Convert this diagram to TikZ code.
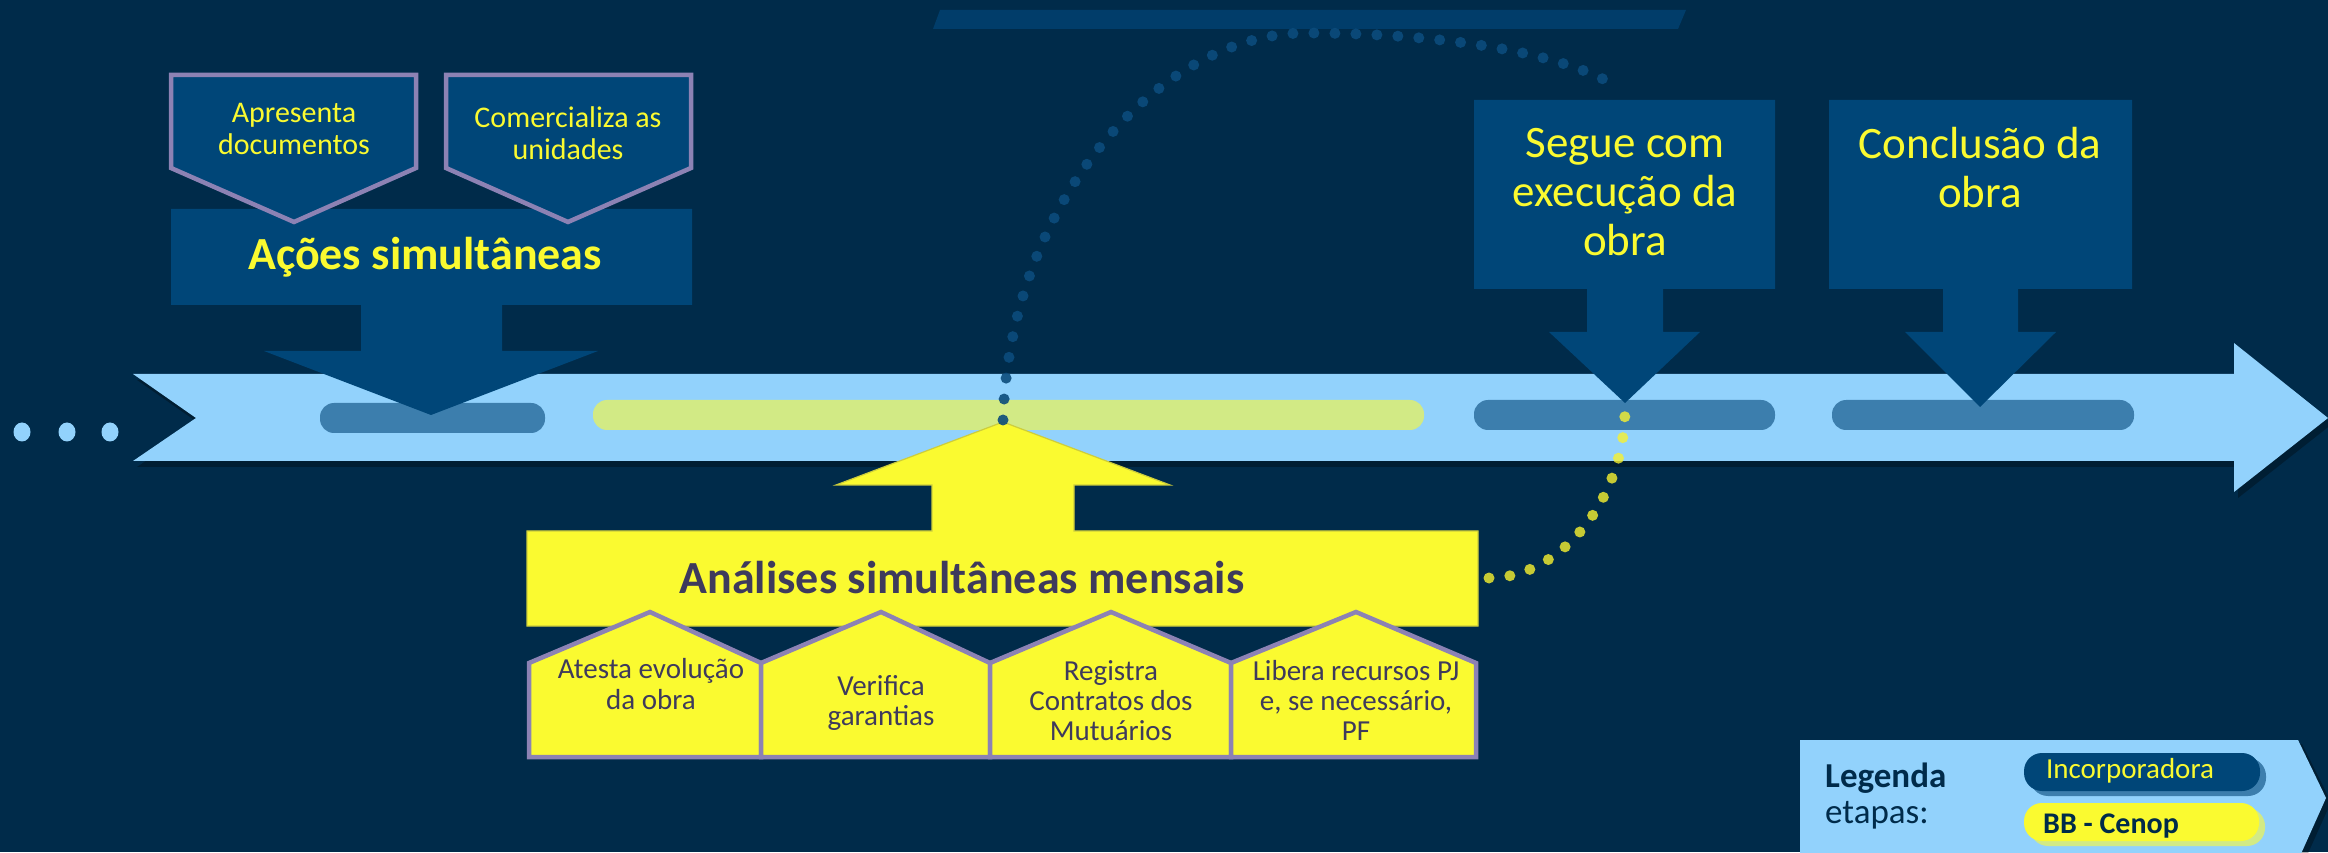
\documentclass[tikz,border=0pt]{standalone}
\usepackage{fontspec}
\setmainfont{Carlito}
\definecolor{bgc}{RGB}{0,43,74}
\definecolor{boxc}{RGB}{0,70,120}
\definecolor{stripe}{RGB}{1,61,106}
\definecolor{lblue}{RGB}{146,210,252}
\definecolor{steel}{RGB}{60,126,173}
\definecolor{ygreen}{RGB}{210,234,133}
\definecolor{yel}{RGB}{250,250,48}
\definecolor{purp}{RGB}{140,130,180}
\definecolor{dk}{RGB}{62,58,92}
\definecolor{dotdark}{RGB}{12,76,124}
\definecolor{dotyel}{RGB}{248,242,47}
\tikzset{
  ytext/.style={text=yel, inner sep=0pt, align=center},
  dtext/.style={text=dk, inner sep=0pt, align=center},
  pentbox/.style={fill=boxc, draw=purp, line width=4.5pt, line join=miter},
  housebox/.style={fill=yel, draw=purp, line width=4.5pt, line join=miter},
  pill/.style={rounded corners=14pt},
  legpill/.style={rounded corners=18pt},
  dotline/.style={line cap=round, line width=11pt, dash pattern=on 0pt off 21pt},
}
\begin{document}
\begin{tikzpicture}[x=1pt,y=1pt]
\useasboundingbox (0,0) rectangle (2328,852);
\fill[bgc] (0,0) rectangle (2328,852);
\begin{scope}
\clip (0,0) rectangle (2328,852);
% top stripe
\fill[stripe] (940,842) -- (1686,842) -- (1678,823) -- (933,823) -- cycle;
% leading dots
\foreach \xx in {22,67,110} \fill[lblue] (\xx,420) ellipse (8.5pt and 9.5pt);
% main band shadow and band
\fill[black, opacity=0.3] (137,385) -- (2238,385) -- (2238,354) -- (2332,428) -- (2238,503) -- (2238,472) -- (137,472) -- (200,428) -- cycle;
\fill[lblue] (133,478) -- (2234,478) -- (2234,509) -- (2328,434) -- (2234,360) -- (2234,391) -- (133,391) -- (196,434) -- cycle;
% bars
\fill[steel, pill] (320,419) rectangle (545,449);
\fill[ygreen, pill] (593,422) rectangle (1424,452);
\fill[steel, pill] (1474,422) rectangle (1775,452);
\fill[steel, pill] (1832,422) rectangle (2134,452);
% Acoes box with down arrow
\fill[boxc] (171,643) -- (692,643) -- (692,547) -- (502,547) -- (502,501) -- (598,501) -- (431,437) -- (264,501) -- (361,501) -- (361,547) -- (171,547) -- cycle;
\draw[pentbox] (171,777) -- (416,777) -- (416,684) -- (294,630) -- (171,684) -- cycle;
\draw[pentbox] (446,777) -- (691,777) -- (691,684) -- (568,630) -- (446,684) -- cycle;
\node[ytext, anchor=north, font=\fontsize{30}{32}\selectfont] (apr) at (294,752.4) {\strut Apresenta\\documentos};
\node[ytext, anchor=north, font=\fontsize{30}{32}\selectfont] (com) at (568,747.4) {\strut Comercializa as\\unidades};
\node[ytext, anchor=base, font=\fontsize{46}{49}\selectfont\bfseries] (acoes) at (425,582) {Ações simultâneas};
% Segue box
\fill[boxc] (1474,752) -- (1775,752) -- (1775,563) -- (1663,563) -- (1663,520) -- (1700,520) -- (1625,449) -- (1549,520) -- (1587,520) -- (1587,563) -- (1474,563) -- cycle;
\node[ytext, anchor=north, font=\fontsize{45}{49}\selectfont] (segue) at (1625,729.3) {\strut Segue com\\execução da\\obra};
% Conclusao box
\fill[boxc] (1829,752) -- (2132,752) -- (2132,563) -- (2018,563) -- (2018,520) -- (2056,520) -- (1980,445) -- (1905,520) -- (1943,520) -- (1943,563) -- (1829,563) -- cycle;
\node[ytext, anchor=north, font=\fontsize{45}{49}\selectfont] (concl) at (1980,728.3) {\strut Conclusão da\\obra};
% Analises box with up arrow
\filldraw[fill=yel, draw={rgb,255:red,205;green,205;blue,60}, line width=1.2pt] (527,226) -- (1478,226) -- (1478,321) -- (1074,321) -- (1074,367) -- (1170,367) -- (1003,430) -- (836,367) -- (932,367) -- (932,321) -- (527,321) -- cycle;
\node[dtext, anchor=base, font=\fontsize{46}{49}\selectfont\bfseries] (anal) at (962,259) {Análises simultâneas mensais};
% houses
\draw[housebox] (529,95) -- (761,95) -- (761,189) -- (650,240) -- (529,189) -- cycle;
\draw[housebox] (761,95) -- (990,95) -- (990,189) -- (881,240) -- (761,189) -- cycle;
\draw[housebox] (990,95) -- (1231,95) -- (1231,189) -- (1111,240) -- (990,189) -- cycle;
\draw[housebox] (1231,95) -- (1476,95) -- (1476,189) -- (1356,240) -- (1231,189) -- cycle;
\node[dtext, anchor=north, font=\fontsize{29}{31}\selectfont] (h1) at (651,195) {\strut Atesta evolução\\da obra};
\node[dtext, anchor=north, font=\fontsize{29}{30}\selectfont] (h2) at (881,178) {\strut Verifica\\garantias};
\node[dtext, anchor=north, font=\fontsize{29}{30}\selectfont] (h3) at (1111,193) {\strut Registra\\Contratos dos\\Mutuários};
\node[dtext, anchor=north, font=\fontsize{29}{30}\selectfont] (h4) at (1356,193) {\strut Libera recursos PJ\\e, se necessário,\\PF};
% dotted connectors
\coordinate (ytip) at (1003,432);
\coordinate (apex) at (1306,819);
\coordinate (segtop) at (1619,764);
\coordinate (yright) at (1489,274);
\coordinate (segtip) at (1625,444);
\draw[dotline, dotdark, opacity=0.9] (ytip) .. controls (1010,652) and (1160,819) .. (apex) .. controls (1430,819) and (1560,802) .. (segtop);
\draw[dotline, dotyel, opacity=0.8] (yright) .. controls (1560,274) and (1625,352) .. (segtip);
% legend
\fill[black, opacity=0.3] (1804,108) -- (2302,108) -- (2331,50) -- (2305,-8) -- (1804,-8) -- cycle;
\fill[lblue] (1800,112) -- (2298,112) -- (2326,54) -- (2300,-4) -- (1800,-4) -- cycle;
\node[inner sep=0pt, anchor=north west, align=left, text=bgc, font=\fontsize{35}{36}\selectfont] (leg) at (1825,90.2) {\strut\textbf{Legenda}\\etapas:};
\fill[steel, legpill] (2030,56) rectangle (2266,94);
\fill[boxc, legpill] (2024,61) rectangle (2260,99);
\node[ytext, anchor=base, font=\fontsize{29}{30}\selectfont] (inc) at (2130,74) {Incorporadora};
\fill[ygreen, legpill] (2030,6) rectangle (2265,44);
\fill[yel, legpill] (2024,11) rectangle (2259,49);
\node[inner sep=0pt, anchor=base west, text=bgc, font=\fontsize{30}{30}\selectfont\bfseries] (bb) at (2043,19) {BB - Cenop};
\end{scope}
\end{tikzpicture}
\end{document}
